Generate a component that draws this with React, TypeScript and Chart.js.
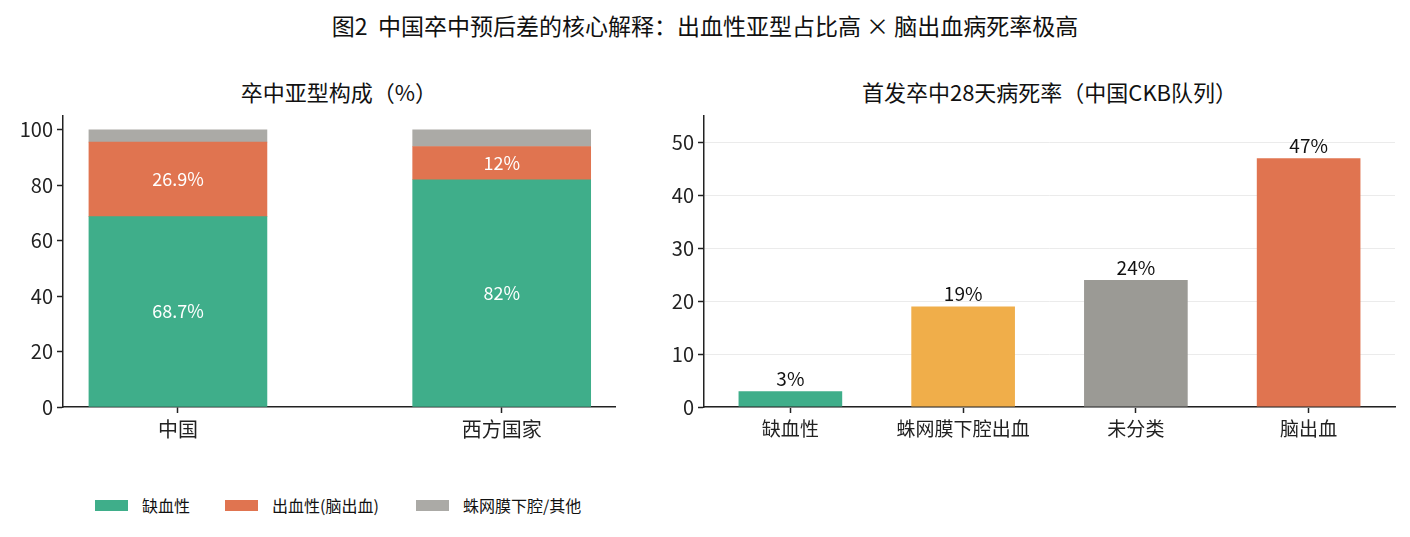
import { useEffect, useRef } from 'react';
import { Chart, registerables } from 'chart.js';

Chart.register(...registerables);

const FONT = '"Noto Sans CJK SC", "Noto Sans", sans-serif';

// left panel: subtype composition (%)
const regions = ['中国', '西方国家'];
const ischemicShare = [68.7, 82];
const hemorrhagicShare = [26.9, 12];
const otherShare = [4.4, 6];
const subtypeNames = ['缺血性', '出血性(脑出血)', '蛛网膜下腔/其他'];
const subtypeColors = ['#3fae8a', '#e07450', '#abaaa6'];

// right panel: 28-day case fatality
const fatalityTypes = ['缺血性', '蛛网膜下腔出血', '未分类', '脑出血'];
const fatalityValues = [3, 19, 24, 47];
const fatalityColors = ['#3fae8a', '#f0ae4a', '#9b9a95', '#e07450'];

const pct = (v: number) => `${v}%`;

const axisGrid = { drawOnChartArea: false, drawTicks: true, tickLength: 6, tickColor: '#222', tickWidth: 1.5, offset: false };
const axisBorder = { display: true, color: '#222', width: 1.5 };

function CompositionChart() {
  const ref = useRef<HTMLCanvasElement>(null);
  useEffect(() => {
    if (!ref.current) return;
    const series = [ischemicShare, hemorrhagicShare, otherShare];
    const chart = new Chart(ref.current, {
      type: 'bar',
      data: {
        datasets: series.map((vals, i) => ({
          label: subtypeNames[i],
          data: vals.map((v, j) => ({ x: j, y: v })),
          backgroundColor: subtypeColors[i],
          barThickness: 178,
          borderWidth: 0,
        })),
      },
      options: {
        responsive: false,
        animation: false,
        layout: { padding: { top: 12, right: 25, left: 0, bottom: 0 } },
        plugins: { legend: { display: false }, tooltip: { enabled: false } },
        scales: {
          x: {
            type: 'linear',
            stacked: true,
            offset: false,
            min: -0.355,
            max: 1.35,
            afterBuildTicks: (s: any) => { s.ticks = [{ value: 0 }, { value: 1 }]; },
            afterFit: (s: any) => { s.height = 53; },
            ticks: {
              callback: (v: any) => regions[v as number] ?? '',
              color: '#222',
              font: { family: FONT, size: 20 },
              padding: 4,
            },
            grid: axisGrid,
            border: axisBorder,
          },
          y: {
            stacked: true,
            min: 0,
            max: 105,
            afterBuildTicks: (s: any) => { s.ticks = [0, 20, 40, 60, 80, 100].map((value) => ({ value })); },
            afterFit: (s: any) => { s.width = 63; },
            ticks: { color: '#222', font: { family: FONT, size: 20 }, padding: 4 },
            grid: axisGrid,
            border: axisBorder,
          },
        },
      },
      plugins: [{
        id: 'segmentLabels',
        afterDatasetsDraw(c: any) {
          const ctx = c.ctx;
          ctx.save();
          ctx.fillStyle = '#fff';
          ctx.font = `18px ${FONT}`;
          ctx.textAlign = 'center';
          ctx.textBaseline = 'middle';
          [0, 1].forEach((di) => {
            const meta = c.getDatasetMeta(di);
            meta.data.forEach((bar: any, j: number) => {
              ctx.fillText(pct(series[di][j]), bar.x, (bar.y + bar.base) / 2);
            });
          });
          ctx.restore();
        },
      }],
    } as any);
    return () => chart.destroy();
  }, []);
  return <canvas ref={ref} width={640} height={360} style={{ position: 'absolute', left: 0, top: 100, width: 640, height: 360 }} />;
}

function FatalityChart() {
  const ref = useRef<HTMLCanvasElement>(null);
  useEffect(() => {
    if (!ref.current) return;
    const chart = new Chart(ref.current, {
      type: 'bar',
      data: {
        labels: fatalityTypes,
        datasets: [{
          data: fatalityValues,
          backgroundColor: fatalityColors,
          barPercentage: 0.6,
          categoryPercentage: 1,
          borderWidth: 0,
        }],
      },
      options: {
        responsive: false,
        animation: false,
        layout: { padding: { top: 12, right: 15, left: 0, bottom: 0 } },
        plugins: { legend: { display: false }, tooltip: { enabled: false } },
        scales: {
          x: {
            afterFit: (s: any) => { s.height = 53; },
            ticks: { color: '#222', font: { family: FONT, size: 19 }, padding: 4 },
            grid: axisGrid,
            border: axisBorder,
          },
          y: {
            min: 0,
            max: 55,
            afterBuildTicks: (s: any) => { s.ticks = [0, 10, 20, 30, 40, 50].map((value) => ({ value })); },
            afterFit: (s: any) => { s.width = 44; },
            ticks: { color: '#222', font: { family: FONT, size: 20 }, padding: 4 },
            grid: { color: '#ebebeb', lineWidth: 1, drawTicks: true, tickLength: 6, tickColor: '#222', tickWidth: 1.5 },
            border: axisBorder,
          },
        },
      },
      plugins: [{
        id: 'valueLabels',
        afterDatasetsDraw(c: any) {
          const ctx = c.ctx;
          ctx.save();
          ctx.fillStyle = '#111';
          ctx.font = `19px ${FONT}`;
          ctx.textAlign = 'center';
          ctx.textBaseline = 'bottom';
          c.getDatasetMeta(0).data.forEach((bar: any, j: number) => {
            ctx.fillText(pct(fatalityValues[j]), bar.x, bar.y - 3);
          });
          ctx.restore();
        },
      }],
    } as any);
    return () => chart.destroy();
  }, []);
  return <canvas ref={ref} width={750} height={360} style={{ position: 'absolute', left: 660, top: 100, width: 750, height: 360 }} />;
}

export default function App() {
  const text = { position: 'absolute' as const, fontFamily: FONT, color: '#111', whiteSpace: 'pre' as const, lineHeight: 1 };
  const legendBoxX = [95, 225, 416];
  return (
    <div style={{ position: 'absolute', left: 0, top: 0, width: 1410, height: 537, background: '#fff', overflow: 'hidden' }}>
      <div style={{ ...text, left: 0, width: 1410, top: 14, fontSize: 23, textAlign: 'center' }}>
        {'图2  中国卒中预后差的核心解释：出血性亚型占比高 × 脑出血病死率极高'}
      </div>
      <div style={{ ...text, left: 63, width: 552, top: 80, fontSize: 22, textAlign: 'center' }}>卒中亚型构成（%）</div>
      <div style={{ ...text, left: 704, width: 691, top: 80, fontSize: 22, textAlign: 'center' }}>首发卒中28天病死率（中国CKB队列）</div>
      <CompositionChart />
      <FatalityChart />
      {subtypeNames.map((name, i) => (
        <div key={name}>
          <div style={{ position: 'absolute', left: legendBoxX[i], top: 500, width: 33, height: 11, background: subtypeColors[i] }} />
          <div style={{ ...text, left: legendBoxX[i] + 47, top: 497, fontSize: 16 }}>{name}</div>
        </div>
      ))}
    </div>
  );
}
